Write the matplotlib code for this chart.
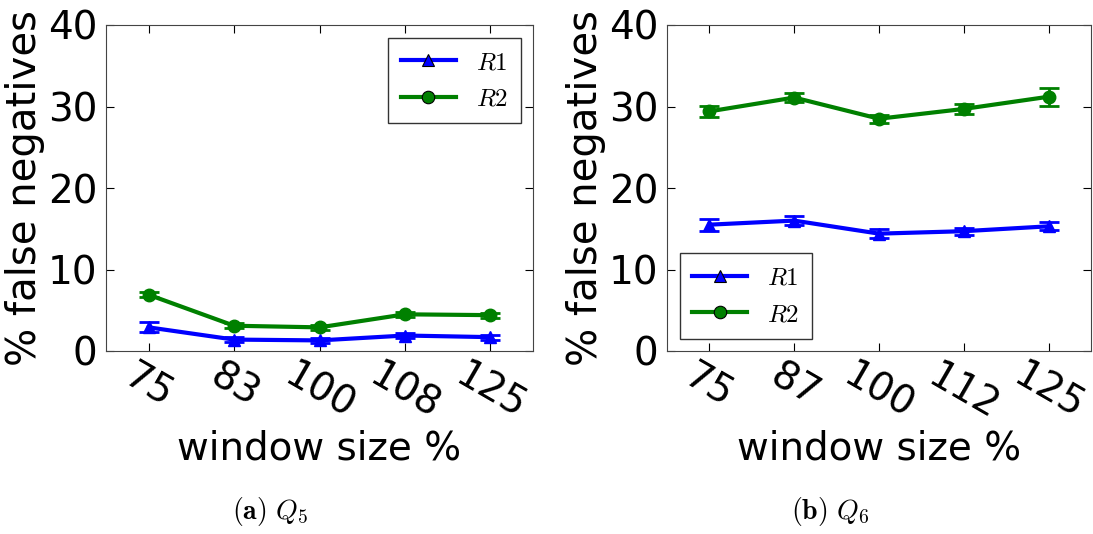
import matplotlib
matplotlib.use('Agg')
import matplotlib.pyplot as plt
from matplotlib.lines import Line2D

plt.rcParams['font.family'] = 'DejaVu Sans'
plt.rcParams['mathtext.fontset'] = 'cm'

# --- data ---
x_q5 = ['75', '83', '100', '108', '125']
x_q6 = ['75', '87', '100', '112', '125']

q5_r1 = [2.9, 1.4, 1.3, 1.9, 1.7]
q5_r1_err = [0.6, 0.3, 0.3, 0.3, 0.3]
q5_r2 = [6.9, 3.1, 2.9, 4.5, 4.4]
q5_r2_err = [0.3, 0.3, 0.3, 0.3, 0.3]

q6_r1 = [15.5, 16.0, 14.4, 14.7, 15.3]
q6_r1_err = [0.75, 0.55, 0.55, 0.45, 0.5]
q6_r2 = [29.4, 31.1, 28.5, 29.7, 31.2]
q6_r2_err = [0.7, 0.55, 0.5, 0.65, 1.1]

fig = plt.figure(figsize=(10.93, 5.34), dpi=100)
W, H = 1093, 534


def make_axes(x0, x1, y_top, y_bot):
    return fig.add_axes([x0 / W, (H - y_bot) / H, (x1 - x0) / W, (y_bot - y_top) / H])


def draw(ax, labels, r1, r1e, r2, r2e, legend_loc):
    pos = list(range(len(labels)))
    ax.errorbar(pos, r1, yerr=r1e, color='b', marker='^', markersize=9, lw=3,
                capsize=7, capthick=2, elinewidth=2)
    ax.errorbar(pos, r2, yerr=r2e, color='g', marker='o', markersize=9, lw=3,
                capsize=7, capthick=2, elinewidth=2)
    ax.set_xlim(-0.5, len(labels) - 0.5)
    ax.set_ylim(0, 40)
    ax.set_yticks([0, 10, 20, 30, 40])
    ax.set_xticks(pos)
    ax.set_xticklabels(labels, rotation=-30, ha='center')
    ax.tick_params(direction='in', top=True, right=True, labelsize=28, length=6)
    ax.tick_params(axis='x', pad=4)
    ax.tick_params(axis='y', pad=6)
    ax.set_xlabel('window size %', fontsize=28, labelpad=2)
    ax.set_ylabel('% false negatives', fontsize=29, labelpad=2)
    for s in ax.spines.values():
        s.set_color('#444444')
    handles = [
        Line2D([], [], color='b', lw=3, marker='^', markersize=9, markeredgecolor='k', markeredgewidth=0.8),
        Line2D([], [], color='g', lw=3, marker='o', markersize=9, markeredgecolor='k', markeredgewidth=0.8),
    ]
    leg = ax.legend(handles, ['$R1$', '$R2$'], loc=legend_loc, fontsize=18, fancybox=False,
                    numpoints=1, handlelength=2.2, borderpad=0.5, labelspacing=0.5)
    leg.get_frame().set_edgecolor('black')


ax1 = make_axes(106, 533, 25, 351)
draw(ax1, x_q5, q5_r1, q5_r1_err, q5_r2, q5_r2_err, 'upper right')

ax2 = make_axes(667, 1091, 25, 351)
draw(ax2, x_q6, q6_r1, q6_r1_err, q6_r2, q6_r2_err, 'lower left')

fig.text(270 / W, 1 - 512 / H, r'$\mathbf{(a)}\ Q_5$', fontsize=20, ha='center', va='center')
fig.text(830 / W, 1 - 512 / H, r'$\mathbf{(b)}\ Q_6$', fontsize=20, ha='center', va='center')

fig.savefig('out.png', dpi=100)
